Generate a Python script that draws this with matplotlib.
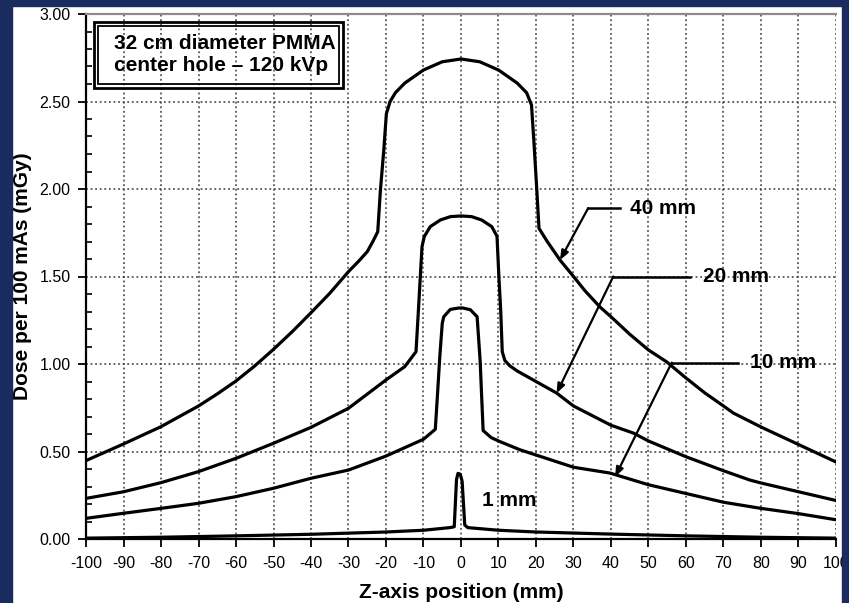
import matplotlib
matplotlib.use('Agg')
import matplotlib.pyplot as plt
from matplotlib.patches import Rectangle
from matplotlib.ticker import MultipleLocator

plt.rcParams['font.family'] = ['Liberation Sans', 'DejaVu Sans']
plt.rcParams['axes.unicode_minus'] = False

NAVY = '#1a2b5f'

# dose profiles (z in mm, dose in mGy per 100 mAs)
z_40mm = [-100, -90, -80, -70, -65, -60, -55, -50, -45, -40, -35, -30, -27.4, -25, -23.5, -22.2,
          -21.5, -20.6, -19.9, -18.9, -17.5, -15, -10, -5, 0, 5, 10, 15, 17.5, 18.8, 19.5, 20.2,
          20.8, 23, 26.4, 30, 33, 37, 40, 45, 50, 54.8, 60, 65, 70, 72.6, 80, 90, 100]
dose_40mm = [0.448, 0.543, 0.642, 0.76, 0.829, 0.903, 0.989, 1.084, 1.185, 1.293, 1.404, 1.528,
             1.585, 1.642, 1.70, 1.756, 1.99, 2.22, 2.43, 2.50, 2.55, 2.605, 2.68, 2.727, 2.743,
             2.727, 2.68, 2.605, 2.55, 2.48, 2.25, 2.0, 1.775, 1.70, 1.594, 1.50, 1.42, 1.327,
             1.27, 1.17, 1.08, 1.013, 0.92, 0.835, 0.76, 0.72, 0.64, 0.54, 0.44]

z_20mm = [-100, -90, -80, -70, -60, -50, -40, -30, -20, -15, -12.0, -11.3, -10.85, -10.4, -9.8,
          -8.2, -5.5, -2.85, 0, 2.85, 5.5, 8.2, 9.6, 10.1, 10.6, 11.0, 11.7, 13, 15, 20, 25.5, 30,
          40, 46, 50, 60, 70, 77, 80, 90, 100]
dose_20mm = [0.232, 0.27, 0.322, 0.385, 0.461, 0.547, 0.638, 0.747, 0.909, 0.985, 1.07, 1.328, 1.50,
             1.67, 1.728, 1.785, 1.823, 1.842, 1.846, 1.842, 1.823, 1.785, 1.73, 1.5, 1.3, 1.07,
             1.02, 0.99, 0.96, 0.90, 0.834, 0.76, 0.65, 0.605, 0.56, 0.47, 0.39, 0.337, 0.32, 0.27,
             0.22]

z_10mm = [-100, -90, -80, -70, -60, -50, -40, -30, -20, -10, -6.85, -6.2, -5.66, -5.0, -4.6, -2.85,
          -0.6, 0.5, 2.5, 4.3, 5.1, 5.9, 8, 10, 15.7, 20, 30, 39.7, 50, 60, 70, 80, 90, 100]
dose_10mm = [0.118, 0.147, 0.175, 0.204, 0.242, 0.29, 0.347, 0.394, 0.474, 0.57, 0.627, 0.85, 1.04,
             1.232, 1.27, 1.312, 1.32, 1.32, 1.31, 1.27, 1.02, 0.62, 0.58, 0.56, 0.51, 0.48, 0.41,
             0.377, 0.31, 0.26, 0.21, 0.175, 0.145, 0.11]

z_1mm = [-100, -80, -60, -40, -20, -10, -3, -1.8, -1.2, -0.8, -0.2, 0.3, 1.0, 1.8, 10, 20, 40, 60,
         80, 100]
dose_1mm = [0.005, 0.01, 0.018, 0.027, 0.04, 0.05, 0.065, 0.07, 0.34, 0.375, 0.37, 0.33, 0.08, 0.065,
            0.05, 0.04, 0.028, 0.018, 0.01, 0.005]

x_ticks = list(range(-100, 101, 10))
x_tick_labels = [str(v) for v in x_ticks]
y_ticks = [0.0, 0.5, 1.0, 1.5, 2.0, 2.5, 3.0]
y_tick_labels = ['0.00', '0.50', '1.00', '1.50', '2.00', '2.50', '3.00']

# labels: text, text position, leader start, leader end, arrow tip
callouts = [
    ('40 mm', (45, 1.89), (42.4, 1.89), (33.9, 1.89), (26.4, 1.594)),
    ('20 mm', (64.6, 1.50), (61.1, 1.50), (40.6, 1.50), (25.5, 0.833)),
    ('10 mm', (77, 1.008), (74, 1.008), (56.2, 1.008), (41.1, 0.356)),
]

fig = plt.figure(figsize=(8.49, 6.03), dpi=100, facecolor='white')
ax = fig.add_axes([86 / 849, 1 - 539 / 603, 750 / 849, 525 / 603])

for z, d in [(z_40mm, dose_40mm), (z_20mm, dose_20mm), (z_10mm, dose_10mm), (z_1mm, dose_1mm)]:
    ax.plot(z, d, color='black', lw=2.3, solid_joinstyle='round', zorder=3)

ax.set_xlim(-100, 100)
ax.set_ylim(0, 3)
ax.set_xticks(x_ticks)
ax.set_xticklabels(x_tick_labels)
ax.set_yticks(y_ticks)
ax.set_yticklabels(y_tick_labels)
ax.yaxis.set_minor_locator(MultipleLocator(0.1))
ax.tick_params(axis='both', which='major', direction='out', length=6, width=1.3,
               labelsize=11.5, pad=5, colors='black')
ax.tick_params(axis='y', which='minor', direction='in', length=4, width=1.2)
ax.tick_params(axis='x', which='major', pad=6)

ax.grid(True, which='major', color='#3a3a3a', lw=1.1, linestyle=(0, (1.2, 1.8)))
ax.set_axisbelow(True)
ax.spines['right'].set_visible(False)
ax.spines['top'].set_color('#8c8c8c')
ax.spines['top'].set_linewidth(1.6)
ax.spines['left'].set_linewidth(1.6)
ax.spines['bottom'].set_linewidth(1.6)

# title box with double border
ax.add_patch(Rectangle((-97.9, 2.577), 66.4, 0.377, fill=False, ec='black', lw=2.0, zorder=4))
ax.add_patch(Rectangle((-96.8, 2.600), 64.2, 0.331, fill=False, ec='black', lw=1.3, zorder=4))
ax.text(-92.5, 2.768, '32 cm diameter PMMA\ncenter hole \u2013 120 kVp', ha='left', va='center',
        fontsize=15, fontweight='bold', linespacing=1.25, zorder=5)

for label, txt_xy, lead_a, lead_b, tip in callouts:
    ax.plot([lead_a[0], lead_b[0]], [lead_a[1], lead_b[1]], color='black', lw=1.8, zorder=4)
    ax.annotate('', xy=tip, xytext=lead_b,
                arrowprops=dict(arrowstyle='-|>,head_length=0.55,head_width=0.22', lw=1.6,
                                color='black', shrinkA=0, shrinkB=0), zorder=4)
    ax.text(txt_xy[0], txt_xy[1], label, ha='left', va='center', fontsize=15,
            fontweight='bold', zorder=5)

ax.text(5.5, 0.22, '1 mm', ha='left', va='center', fontsize=15, fontweight='bold', zorder=5)

fig.text(23 / 849, 1 - 276.5 / 603, 'Dose per 100 mAs (mGy)', rotation=90, ha='center',
         va='center', fontsize=15, fontweight='bold')
fig.text(461 / 849, 1 - 592 / 603, 'Z-axis position (mm)', ha='center', va='center',
         fontsize=15, fontweight='bold')

# dark frame around the slide
fig.add_artist(Rectangle((0, 0), 12 / 849, 1, transform=fig.transFigure, color=NAVY, zorder=10))
fig.add_artist(Rectangle((0, 1 - 6 / 603), 1, 6 / 603, transform=fig.transFigure, color=NAVY,
                         zorder=10))
fig.add_artist(Rectangle((842 / 849, 0), 7 / 849, 1, transform=fig.transFigure, color=NAVY,
                         zorder=10))

fig.savefig('out.png', dpi=100, facecolor='white')
